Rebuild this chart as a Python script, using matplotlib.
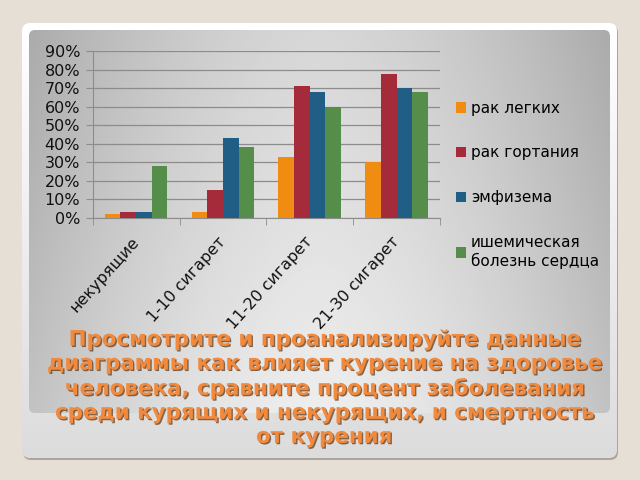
import matplotlib.pyplot as plt
import matplotlib.patheffects as pe
import matplotlib.transforms as mtransforms
from matplotlib.patches import FancyBboxPatch
import numpy as np

categories = ['некурящие', '1-10 сигарет', '11-20 сигарет', '21-30 сигарет']
series = ['рак легких', 'рак гортания', 'эмфизема', 'ишемическая\nболезнь сердца']
lung = [0.02, 0.03, 0.33, 0.30]
larynx = [0.03, 0.15, 0.71, 0.78]
emphysema = [0.03, 0.43, 0.68, 0.70]
heart = [0.28, 0.38, 0.60, 0.68]
colors = ['#f08c12', '#a52b3b', '#215e86', '#558e4a']
yticks = [0, 0.1, 0.2, 0.3, 0.4, 0.5, 0.6, 0.7, 0.8, 0.9]

caption = ('Просмотрите и проанализируйте данные\n'
           'диаграммы как влияет курение на здоровье\n'
           'человека, сравните процент заболевания\n'
           'среди курящих и некурящих, и смертность\n'
           'от курения')

fig = plt.figure(figsize=(6.4, 4.8), dpi=100, facecolor='#e5dfd5')

# slide background: white frame + grey gradient panel
bg = fig.add_axes([0, 0, 1, 1])
bg.set_xlim(0, 640)
bg.set_ylim(480, 0)
bg.axis('off')

shadow = FancyBboxPatch((23, 25), 595, 435, boxstyle='round,pad=0,rounding_size=8',
                        fc='#aaa69e', ec='none', zorder=0)
bg.add_patch(shadow)
frame = FancyBboxPatch((22, 23), 595, 435, boxstyle='round,pad=0,rounding_size=8',
                       fc='none', ec='none')
bg.add_patch(frame)
fy = np.linspace(0, 1, 200)[:, None] * np.ones((1, 10))
im = bg.imshow(1 - 0.14 * fy, cmap='gray', vmin=0, vmax=1, zorder=1,
               extent=(22, 617, 458, 23), aspect='auto', interpolation='bilinear')
im.set_clip_path(frame)

panel = FancyBboxPatch((29, 30), 581, 383, boxstyle='round,pad=0,rounding_size=6',
                       fc='none', ec='none')
bg.add_patch(panel)
px = np.linspace(-1, 1, 300)[None, :]
py = np.linspace(0, 1, 200)[:, None]
g = 0.93 - 0.17 * np.abs(px) ** 1.6 - 0.09 * (1 - py)
im2 = bg.imshow(g, cmap='gray', vmin=0, vmax=1, extent=(29, 610, 413, 30), zorder=2,
                aspect='auto', interpolation='bilinear')
im2.set_clip_path(panel)

# chart
ax = fig.add_axes([0.1448, 0.5465, 0.6875 - 0.1448, 0.893 - 0.5465])
ax.set_facecolor('none')
x = np.arange(len(categories))
w = 0.18
for i, (vals, name) in enumerate(zip([lung, larynx, emphysema, heart], series)):
    ax.bar(x + (i - 1.5) * w, vals, w, color=colors[i], label=name, zorder=3)

ax.set_xlim(-0.5, 3.5)
ax.set_ylim(0, 0.9)
ax.set_yticks(yticks)
ax.set_yticklabels([f'{int(round(v * 100))}%' for v in yticks], fontsize=11.5, color='#111111')
ax.grid(axis='y', color='#8c8c8c', lw=0.9, zorder=0)
ax.set_xticks(np.arange(-0.5, 4, 1), minor=True)
ax.tick_params(axis='x', which='major', length=0, pad=8)
ax.tick_params(axis='x', which='minor', length=5, color='#8c8c8c')
ax.tick_params(axis='y', length=5, color='#8c8c8c', pad=4)
ax.set_xticks(x)
ax.set_xticklabels(categories, rotation=48, ha='right', va='top',
                   rotation_mode='anchor', fontsize=11.5, color='#111111')
# nudge the slanted labels so their ends sit just under the group centre
shift = mtransforms.ScaledTranslation(-5 / 100, -5 / 100, fig.dpi_scale_trans)
for lab in ax.get_xticklabels():
    lab.set_transform(lab.get_transform() + shift)
for s in ['top', 'right']:
    ax.spines[s].set_visible(False)
for s in ['left', 'bottom']:
    ax.spines[s].set_color('#8c8c8c')

ax.legend(loc='upper left', bbox_to_anchor=(448 / 640, 1 - 93 / 480),
          bbox_transform=fig.transFigure, frameon=False, fontsize=11,
          handlelength=0.7, handleheight=0.7, handletextpad=0.3,
          labelspacing=1.95, borderpad=0)

fig.text(324 / 640, 1 - 388 / 480, caption, ha='center', va='center',
         fontsize=15.4, fontweight='bold', color='#f28a3e', linespacing=1.25,
         path_effects=[pe.withSimplePatchShadow(offset=(1.0, -1.0),
                                                shadow_rgbFace='#6a4424', alpha=0.8)])

fig.savefig('out.png', dpi=100, facecolor=fig.get_facecolor())
